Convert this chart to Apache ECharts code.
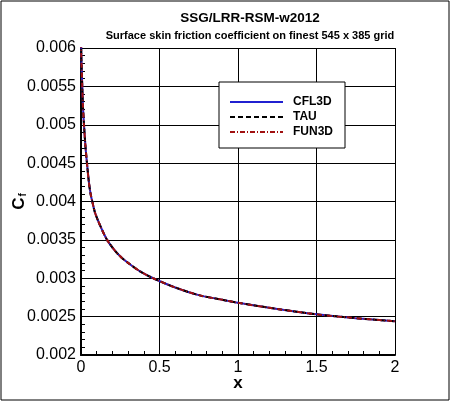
<!DOCTYPE html>
<html>
<head>
<meta charset="utf-8">
<script src="https://cdn.jsdelivr.net/npm/echarts@6/dist/echarts.min.js"></script>
<style>
  html, body { margin: 0; padding: 0; background: #fff; }
  #chart { width: 450px; height: 401px; }
</style>
</head>
<body>
<div id="chart"></div>
<script>
// x positions along the plate and Cf
const xPos = [0, 0.002, 0.005, 0.008, 0.013, 0.019, 0.028, 0.038, 0.051, 0.062, 0.072, 0.090, 0.119, 0.166,
  0.220, 0.263, 0.300, 0.376, 0.470, 0.600, 0.750, 0.900, 1.000, 1.250, 1.500, 1.750, 2.000]
const cfl3d = [0.0062, 0.0059, 0.0057, 0.0055, 0.00522, 0.0050, 0.00473, 0.0045, 0.00424, 0.00409, 0.0040, 0.00385, 0.0037, 0.0035,
  0.00335, 0.00326, 0.0032, 0.00309, 0.00299, 0.00288, 0.00278, 0.00272, 0.00268, 0.0026, 0.00253, 0.00248, 0.00244]
const tau = [0.0062, 0.0059, 0.0057, 0.0055, 0.00522, 0.0050, 0.00473, 0.0045, 0.00424, 0.00409, 0.0040, 0.00385, 0.0037, 0.0035,
  0.00335, 0.00326, 0.0032, 0.00309, 0.00299, 0.00288, 0.00278, 0.00272, 0.00268, 0.0026, 0.00253, 0.00248, 0.00244]
const fun3d = [0.0062, 0.0059, 0.0057, 0.0055, 0.00522, 0.0050, 0.00473, 0.0045, 0.00424, 0.00409, 0.0040, 0.00385, 0.0037, 0.0035,
  0.00335, 0.00326, 0.0032, 0.00309, 0.00299, 0.00288, 0.00278, 0.00272, 0.00268, 0.0026, 0.00253, 0.00248, 0.00244]

const font = 'Liberation Sans'

function pairs(ys) {
  return xPos.map((x, i) => [x, ys[i]])
}

let myChart = echarts.init(document.getElementById('chart'))

let option = {
  animation: false,
  backgroundColor: '#fff',
  title: [
    {
      text: 'SSG/LRR-RSM-w2012',
      left: 245,
      top: 6,
      textAlign: 'center',
      textStyle: { fontFamily: font, fontSize: 13.5, fontWeight: 'bold', color: '#000' }
    },
    {
      text: 'Surface skin friction coefficient on finest 545 x 385 grid',
      left: 245,
      top: 25,
      textAlign: 'center',
      textStyle: { fontFamily: font, fontSize: 11, fontWeight: 'bold', color: '#000' }
    }
  ],
  graphic: [
    {
      type: 'rect',
      shape: { x: 1, y: 1, width: 448, height: 399 },
      style: { fill: 'none', stroke: '#000', lineWidth: 1 },
      silent: true
    }
  ],
  legend: {
    orient: 'vertical',
    left: 219,
    top: 82,
    padding: [14, 12, 10, 10],
    itemWidth: 53,
    itemHeight: 12,
    itemGap: 3,
    backgroundColor: '#fff',
    borderColor: '#000',
    borderWidth: 1,
    itemStyle: { color: 'rgba(0,0,0,0)', borderWidth: 0, opacity: 0 },
    textStyle: { fontFamily: font, fontSize: 12, fontWeight: 'bold', color: '#000', padding: [0, 0, 0, 5] },
    data: ['CFL3D', 'TAU', 'FUN3D']
  },
  grid: { left: 81, top: 48, right: 55, bottom: 46, outerBoundsMode: 'none', containLabel: false },
  xAxis: {
    type: 'value',
    min: 0,
    max: 2,
    interval: 0.5,
    name: 'x',
    nameLocation: 'middle',
    nameGap: 20,
    nameMoveOverlap: false,
    nameTextStyle: { fontFamily: font, fontSize: 17, fontWeight: 'bold', color: '#000' },
    axisLine: { show: true, lineStyle: { color: '#000', width: 2 } },
    axisTick: { show: true, inside: true, length: 6, lineStyle: { color: '#000' } },
    minorTick: { show: true, splitNumber: 5, length: 4, lineStyle: { color: '#000' } },
    splitLine: { show: true, lineStyle: { color: '#000', width: 1 } },
    axisLabel: { fontFamily: font, fontSize: 16, color: '#000', margin: 5 }
  },
  yAxis: {
    type: 'value',
    min: 0.002,
    max: 0.006,
    interval: 0.0005,
    name: '{c|C}{f|f}',
    nameLocation: 'middle',
    nameRotate: 90,
    nameGap: 53,
    nameMoveOverlap: false,
    nameTextStyle: {
      color: '#000',
      rich: {
        c: { fontFamily: font, fontSize: 17, fontWeight: 'bold', color: '#000' },
        f: { fontFamily: font, fontSize: 10, fontWeight: 'bold', color: '#000', verticalAlign: 'bottom', padding: [8, 0, 0, 1] }
      }
    },
    axisLine: { show: true, lineStyle: { color: '#000', width: 2 } },
    axisTick: { show: true, inside: true, length: 6, lineStyle: { color: '#000' } },
    minorTick: { show: true, splitNumber: 5, length: 4, lineStyle: { color: '#000' } },
    splitLine: { show: true, lineStyle: { color: '#000', width: 1 } },
    axisLabel: { fontFamily: font, fontSize: 16, color: '#000', margin: 5 }
  },
  series: [
    {
      name: 'CFL3D',
      type: 'line',
      data: pairs(cfl3d),
      symbol: 'none',
      smooth: 0.3,
      lineStyle: { color: '#2020d0', width: 2 },
      itemStyle: { color: '#2020d0' }
    },
    {
      name: 'TAU',
      type: 'line',
      data: pairs(tau),
      symbol: 'none',
      smooth: 0.3,
      lineStyle: { color: '#000', width: 2, type: [5, 3] },
      itemStyle: { color: '#000' }
    },
    {
      name: 'FUN3D',
      type: 'line',
      data: pairs(fun3d),
      symbol: 'none',
      smooth: 0.3,
      lineStyle: { color: '#a01010', width: 2, type: [5, 2, 1, 2] },
      itemStyle: { color: '#a01010' }
    }
  ]
}

myChart.setOption(option)
</script>
</body>
</html>
